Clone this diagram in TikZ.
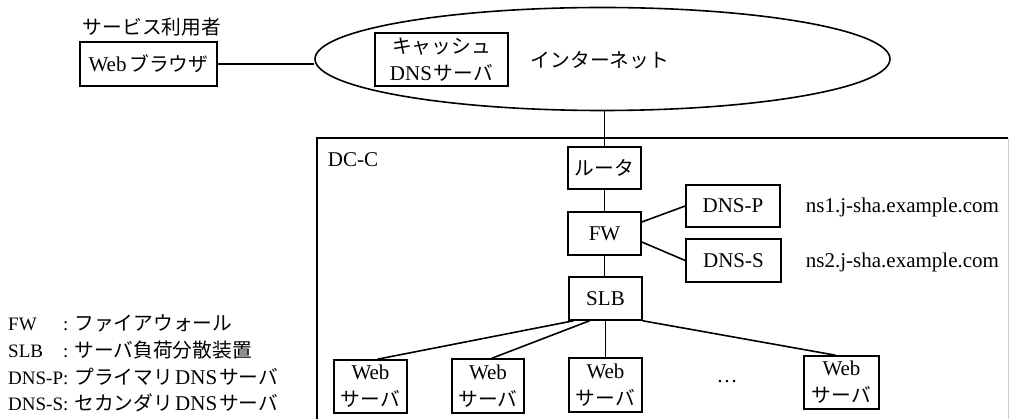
\documentclass[tikz,border=0pt]{standalone}
\usepackage{fontspec}
\setmainfont{Liberation Serif}
\newfontfamily\jpfont[Scale=0.94]{Noto Sans CJK JP}
\newcommand{\J}[1]{{\jpfont #1}}
\newcommand{\fsz}{\fontsize{21}{27}\selectfont}
\newcommand{\lfsz}{\fontsize{19}{24}\selectfont}
\usetikzlibrary{shapes.geometric,calc}
\tikzset{
  box/.style={draw, line width=1.6pt, inner sep=0pt, align=center},
  ln/.style={line width=1.6pt},
  every node/.style={font=\fsz},
  leg/.style={anchor=base west, inner sep=0pt, font=\lfsz},
}
\begin{document}
\begin{tikzpicture}[x=1pt,y=-1pt]
\useasboundingbox (0,0) rectangle (1010,419);
% top part
\node[inner sep=0pt] (user) at (152,27) {\J{サービス利用者}};
\node[box, minimum width=137pt, minimum height=44pt] (browser) at (148.5,64) {Web\hspace{3pt}\J{ブラウザ}};
\node[draw, ellipse, line width=1.6pt, inner sep=0pt, minimum width=575pt, minimum height=103pt] (inet) at (602.5,59) {};
\node[box, minimum width=133pt, minimum height=53pt] (cache) at (441.5,59.5) {\J{キャッシュ}\\DNS\hspace{2pt}\J{サーバ}};
\node[inner sep=0pt] (inettext) at (600,60) {\J{インターネット}};
% DC-C frame
\draw[ln] (317,419) -- (317,138) -- (1008,138);
\draw[line width=0.8pt, black!20] (1008,138) -- (1008,419);
\node[inner sep=0pt] (dcc) at (353,160) {DC-C};
% devices
\node[box, minimum width=73pt, minimum height=42pt] (router) at (604.5,168) {\J{ルータ}};
\node[box, minimum width=73pt, minimum height=43pt] (fw) at (604.5,233.5) {FW};
\node[box, minimum width=73pt, minimum height=43pt] (slb) at (605.5,298.5) {SLB};
\node[box, minimum width=94pt, minimum height=42pt] (dnsp) at (733,206) {DNS-P};
\node[box, minimum width=95pt, minimum height=43pt] (dnss) at (733.5,260.5) {DNS-S};
\node[inner sep=0pt] (ns1) at (902.5,207) {ns1.j-sha.example.com};
\node[inner sep=0pt] (ns2) at (902.5,262) {ns2.j-sha.example.com};
\node[box, minimum width=73pt, minimum height=53pt] (web1) at (370.5,386.5) {Web\\\J{サーバ}};
\node[box, minimum width=72pt, minimum height=54pt] (web2) at (488,386) {Web\\\J{サーバ}};
\node[box, minimum width=73pt, minimum height=54pt] (web3) at (605.5,385) {Web\\\J{サーバ}};
\node[box, minimum width=75pt, minimum height=53pt] (web4) at (841.5,382.5) {Web\\\J{サーバ}};
\node[inner sep=0pt] (dots) at (727,382) {\ldots};
% connectors
\draw[ln] (browser.east) -- (browser.east -| inet.west);
\draw[ln] (router.north) -- (router.north |- inet.south);
\draw[ln] (router.south) -- (router.south |- fw.north);
\draw[ln] (fw.south) -- (fw.south |- slb.north);
\draw[ln] ($(fw.east)+(0,-11.5)$) -- (dnsp.west);
\draw[ln] ($(fw.east)+(0,8.5)$) -- (dnss.west);
\draw[ln] ($(slb.south)+(-32,0)$) -- ($(web1.north)+(7,0)$);
\draw[ln] ($(slb.south)+(-16,0)$) -- ($(web2.north)+(4,0)$);
\draw[ln] (slb.south) -- (slb.south |- web3.north);
\draw[ln] (slb.south east) -- ($(web4.north)+(-6,0)$);
% legend
\node[leg] (l1) at (8,331) {FW};
\node[leg] (d1) at (63,331) {:\hspace{6pt}{\fsz\J{ファイアウォール}}};
\node[leg] (l2) at (8,358) {SLB};
\node[leg] (d2) at (63,358) {:\hspace{6pt}{\fsz\J{サーバ負荷分散装置}}};
\node[leg] (l3) at (8,385) {DNS-P};
\node[leg] (d3) at (63,385) {:\hspace{6pt}{\fsz\J{プライマリ}\hspace{2pt}DNS\hspace{2pt}\J{サーバ}}};
\node[leg] (l4) at (8,411) {DNS-S};
\node[leg] (d4) at (63,411) {:\hspace{6pt}{\fsz\J{セカンダリ}\hspace{2pt}DNS\hspace{2pt}\J{サーバ}}};
\end{tikzpicture}
\end{document}
